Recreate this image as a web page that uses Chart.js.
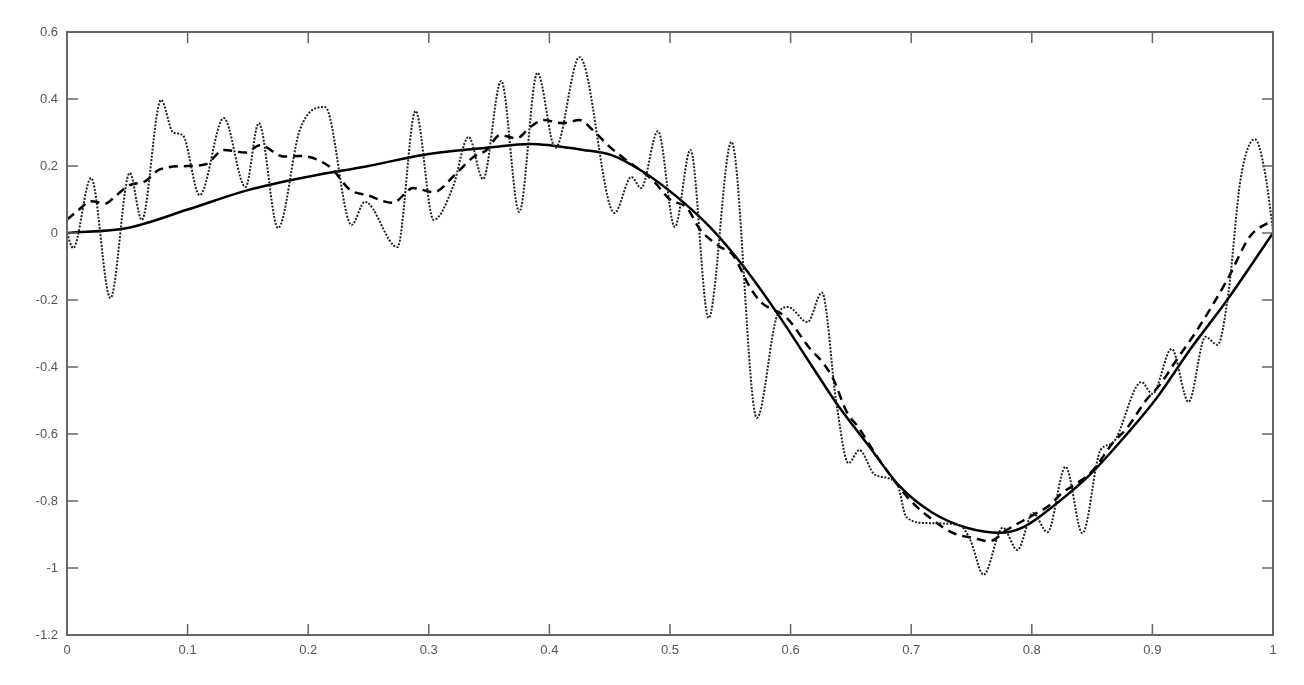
<!DOCTYPE html>
<html lang="en">
<head>
    <meta charset="UTF-8">
    <title>Curves</title>
    <script src="https://cdn.jsdelivr.net/npm/chart.js"></script>
    <style>
        body { margin: 0; background: #fff; }
        .chartBox { width: 1304px; height: 685px; }
    </style>
</head>
<body>

    <div class="chartBox">
        <canvas id="myChart" width="1304" height="685"></canvas>
    </div>

    <script>

        // data block
        const xTicks = [0, 0.1, 0.2, 0.3, 0.4, 0.5, 0.6, 0.7, 0.8, 0.9, 1];
        const yTicks = [-1.2, -1, -0.8, -0.6, -0.4, -0.2, 0, 0.2, 0.4, 0.6];

        const solidX = [0, 0.05, 0.1, 0.15, 0.2, 0.25, 0.295, 0.35, 0.384, 0.428, 0.451, 0.478, 0.506, 0.533, 0.561,
            0.589, 0.616, 0.638, 0.663, 0.691, 0.718, 0.746, 0.774, 0.793, 0.821, 0.848, 0.876, 0.904, 0.931, 0.962, 1];
        const solidY = [0, 0.015, 0.07, 0.128, 0.168, 0.2, 0.233, 0.255, 0.266, 0.248, 0.233, 0.182, 0.107, 0.018, -0.1,
            -0.24, -0.388, -0.508, -0.627, -0.758, -0.836, -0.88, -0.895, -0.878, -0.806, -0.722, -0.612, -0.49, -0.349, -0.2, 0];

        const dashX = [0, 0.01, 0.02, 0.032, 0.04, 0.052, 0.065, 0.077, 0.1, 0.115, 0.13, 0.148, 0.16, 0.18, 0.193,
            0.218, 0.235, 0.249, 0.27, 0.287, 0.304, 0.323, 0.337, 0.348, 0.359, 0.373, 0.384, 0.395, 0.411, 0.425,
            0.436, 0.45, 0.467, 0.485, 0.5, 0.514, 0.525, 0.541, 0.552, 0.566, 0.575, 0.597, 0.616, 0.627, 0.635,
            0.647, 0.656, 0.672, 0.699, 0.718, 0.735, 0.751, 0.765, 0.779, 0.801, 0.815, 0.825, 0.838, 0.851, 0.867,
            0.879, 0.895, 0.906, 0.92, 0.937, 0.962, 0.981, 0.997, 1];
        const dashY = [0.04, 0.07, 0.095, 0.088, 0.11, 0.143, 0.155, 0.19, 0.2, 0.205, 0.248, 0.24, 0.262, 0.228, 0.23,
            0.197, 0.128, 0.113, 0.09, 0.134, 0.122, 0.179, 0.227, 0.248, 0.292, 0.283, 0.316, 0.337, 0.328, 0.337,
            0.307, 0.257, 0.209, 0.16, 0.1, 0.075, 0.01, -0.04, -0.065, -0.16, -0.205, -0.254, -0.345, -0.388, -0.433,
            -0.537, -0.579, -0.669, -0.797, -0.857, -0.896, -0.91, -0.92, -0.887, -0.842, -0.812, -0.776, -0.746, -0.707, -0.627,
            -0.582, -0.498, -0.454, -0.379, -0.29, -0.14, -0.01, 0.033, 0.04];

        const dotX = [0, 0.005, 0.02, 0.036, 0.052, 0.062, 0.078, 0.088, 0.096, 0.11, 0.13, 0.148, 0.159, 0.175, 0.193,
            0.214, 0.236, 0.247, 0.274, 0.289, 0.304, 0.32, 0.333, 0.345, 0.36, 0.375, 0.39, 0.405, 0.425, 0.454,
            0.468, 0.476, 0.49, 0.504, 0.517, 0.532, 0.551, 0.572, 0.589, 0.598, 0.614, 0.626, 0.638, 0.648, 0.657,
            0.67, 0.688, 0.696, 0.713, 0.74, 0.749, 0.76, 0.776, 0.788, 0.801, 0.813, 0.828, 0.842, 0.857, 0.867,
            0.891, 0.9, 0.916, 0.93, 0.944, 0.954, 0.963, 0.973, 0.985, 0.993, 1];
        const dotY = [0, -0.045, 0.164, -0.194, 0.179, 0.039, 0.397, 0.3, 0.292, 0.113, 0.343, 0.137, 0.328, 0.015, 0.307,
            0.376, 0.024, 0.093, -0.042, 0.364, 0.039, 0.137, 0.287, 0.161, 0.454, 0.063, 0.478, 0.254, 0.525, 0.06,
            0.167, 0.134, 0.304, 0.018, 0.248, -0.254, 0.272, -0.552, -0.245, -0.221, -0.266, -0.178, -0.508, -0.687, -0.648,
            -0.722, -0.746, -0.848, -0.866, -0.872, -0.916, -1.02, -0.88, -0.946, -0.836, -0.893, -0.698, -0.896, -0.648, -0.627,
            -0.445, -0.48, -0.346, -0.504, -0.31, -0.334, -0.18, 0.158, 0.28, 0.188, 0.009];

        const toPoints = (xs, ys) => xs.map((x, i) => ({ x: x, y: ys[i] }));

        // setup block
        const data = {
            datasets: [
                {
                    label: 'dotted',
                    data: toPoints(dotX, dotY),
                    borderColor: '#222',
                    borderWidth: 2,
                    borderDash: [2, 1.5],
                    cubicInterpolationMode: 'monotone'
                },
                {
                    label: 'dashed',
                    data: toPoints(dashX, dashY),
                    borderColor: '#000',
                    borderWidth: 2.5,
                    borderDash: [9, 6],
                    cubicInterpolationMode: 'monotone'
                },
                {
                    label: 'solid',
                    data: toPoints(solidX, solidY),
                    borderColor: '#000',
                    borderWidth: 2.5,
                    cubicInterpolationMode: 'monotone'
                }
            ]
        };

        const fmt = v => String(Number(v.toFixed(1)));

        // inward ticks on all four sides plus the box
        const boxTicks = {
            id: 'boxTicks',
            afterDraw(chart) {
                const ctx = chart.ctx;
                const a = chart.chartArea;
                const xs = chart.scales.x, ys = chart.scales.y;
                const len = 11;
                ctx.save();
                ctx.strokeStyle = '#666';
                ctx.lineWidth = 1.5;
                ctx.beginPath();
                xTicks.forEach(v => {
                    const px = xs.getPixelForValue(v);
                    ctx.moveTo(px, a.bottom); ctx.lineTo(px, a.bottom - len);
                    ctx.moveTo(px, a.top); ctx.lineTo(px, a.top + len);
                });
                yTicks.forEach(v => {
                    const py = ys.getPixelForValue(v);
                    ctx.moveTo(a.left, py); ctx.lineTo(a.left + len, py);
                    ctx.moveTo(a.right, py); ctx.lineTo(a.right - len, py);
                });
                ctx.stroke();
                ctx.lineWidth = 2;
                ctx.strokeRect(a.left, a.top, a.right - a.left, a.bottom - a.top);
                ctx.restore();
            }
        };

        // config block
        const config = {
            type: 'line',
            data,
            options: {
                responsive: false,
                animation: false,
                layout: { padding: { left: 0, right: 31, top: 32, bottom: 0 } },
                elements: { point: { radius: 0 } },
                plugins: { legend: { display: false }, tooltip: { enabled: false } },
                scales: {
                    x: {
                        type: 'linear',
                        min: 0,
                        max: 1,
                        afterBuildTicks: s => { s.ticks = xTicks.map(v => ({ value: v })); },
                        afterFit: s => { s.height = 50; },
                        grid: { display: false, drawTicks: false },
                        border: { display: false },
                        ticks: {
                            padding: 8,
                            color: '#555',
                            font: { family: 'Liberation Sans', size: 13 },
                            maxRotation: 0,
                            callback: v => fmt(v)
                        }
                    },
                    y: {
                        min: -1.2,
                        max: 0.6,
                        afterBuildTicks: s => { s.ticks = yTicks.map(v => ({ value: v })); },
                        afterFit: s => { s.width = 67; },
                        grid: { display: false, drawTicks: false },
                        border: { display: false },
                        ticks: {
                            padding: 9,
                            color: '#555',
                            font: { family: 'Liberation Sans', size: 13 },
                            callback: v => fmt(v)
                        }
                    }
                }
            },
            plugins: [boxTicks]
        };

        // render block
        const myChart = new Chart(document.getElementById('myChart'), config);

    </script>

</body>
</html>
